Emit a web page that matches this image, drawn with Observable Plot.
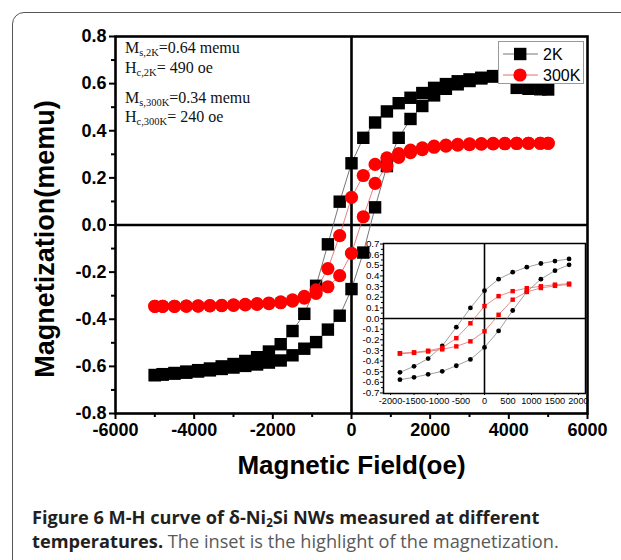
<!DOCTYPE html>
<html><head><meta charset="utf-8">
<script src="https://cdn.jsdelivr.net/npm/d3@7"></script>
<script src="https://cdn.jsdelivr.net/npm/@observablehq/plot@0.6"></script>
<style>
body{margin:0;background:#fff;}
#wrap{position:relative;width:621px;height:560px;overflow:hidden;background:#fff;}
#border{position:absolute;left:12px;top:12px;width:720px;height:720px;border:1.5px solid #555;border-radius:12px;box-sizing:border-box;}
#main,#inset,#legend{position:absolute;}
#main{left:0;top:0;}
#inset{left:357px;top:237px;}
#legend{left:498px;top:41px;}
.ann{position:absolute;left:125px;font-family:"Liberation Serif","Times New Roman",serif;font-size:16px;line-height:16px;color:#111;white-space:nowrap;}
.ann sub{font-size:10.5px;line-height:0;vertical-align:-3px;}
.cap{position:absolute;left:32px;font-family:"Open Sans",sans-serif;font-size:18.2px;line-height:18px;white-space:nowrap;color:#58595b;}
.cap b{color:#231f20;font-weight:700;}
.cap sub{font-size:11.5px;line-height:0;vertical-align:-3px;}
svg text{font-family:"Liberation Sans",Arial,sans-serif;}
</style></head>
<body><div id="wrap">
<div id="border"></div>
<div id="main"></div>
<div id="inset"></div>
<div id="legend"></div>
<div class="ann" style="top:40px">M<sub>s,2K</sub>=0.64 memu</div>
<div class="ann" style="top:60px">H<sub>c,2K</sub>= 490 oe</div>
<div class="ann" style="top:90px">M<sub>s,300K</sub>=0.34 memu</div>
<div class="ann" style="top:109px">H<sub>c,300K</sub>= 240 oe</div>
<div class="cap" style="top:508px"><b>Figure 6 M-H curve of δ-Ni<sub>2</sub>Si NWs measured at different</b></div>
<div class="cap" style="top:532px"><b>temperatures.</b> The inset is the highlight of the magnetization.</div>
</div>
<script>
// Field values (oe), shared by all branches
const H = [-5000,-4800,-4500,-4200,-3900,-3600,-3300,-3000,-2700,-2400,-2100,-1800,-1500,-1200,-900,-600,-300,0,300,600,900,1200,1500,1800,2100,2400,2700,3000,3300,3600,3900,4200,4500,4800,5000];
// 2K, field increasing branch
const m2kAsc = [-0.637,-0.635,-0.631,-0.627,-0.622,-0.617,-0.611,-0.605,-0.598,-0.592,-0.584,-0.575,-0.553,-0.525,-0.497,-0.444,-0.385,-0.272,-0.117,0.075,0.25,0.37,0.45,0.505,0.55,0.578,0.597,0.611,0.622,0.630,0.637,0.640,0.641,0.642,0.642];
// 2K, field decreasing branch
const m2kDesc = [-0.637,-0.633,-0.628,-0.622,-0.616,-0.609,-0.600,-0.590,-0.577,-0.561,-0.537,-0.506,-0.450,-0.377,-0.258,-0.082,0.099,0.262,0.370,0.435,0.482,0.517,0.540,0.560,0.582,0.598,0.610,0.618,0.625,0.632,0.637,0.582,0.578,0.576,0.575];
// 300K, field increasing branch
const m300Asc = [-0.345,-0.345,-0.345,-0.344,-0.344,-0.343,-0.342,-0.341,-0.339,-0.337,-0.334,-0.330,-0.323,-0.310,-0.290,-0.262,-0.215,-0.120,0.035,0.177,0.250,0.287,0.307,0.320,0.330,0.335,0.339,0.341,0.343,0.344,0.345,0.346,0.347,0.347,0.347];
// 300K, field decreasing branch
const m300Desc = [-0.345,-0.345,-0.345,-0.344,-0.343,-0.342,-0.341,-0.339,-0.337,-0.334,-0.331,-0.326,-0.318,-0.303,-0.275,-0.185,-0.045,0.117,0.210,0.257,0.285,0.303,0.318,0.327,0.335,0.339,0.342,0.344,0.345,0.346,0.346,0.347,0.347,0.347,0.347];

const seriesNames = ["2K", "300K"];
const xTitle = "Magnetic Field(oe)";
const yTitle = "Magnetization(memu)";
const xMajor = [-6000,-4000,-2000,0,2000,4000,6000];
const xMinor = [-5000,-3000,-1000,1000,3000,5000];
const yMajor = [-0.8,-0.6,-0.4,-0.2,0,0.2,0.4,0.6,0.8];
const yMinor = [-0.7,-0.5,-0.3,-0.1,0.1,0.3,0.5,0.7];
const insetXTicks = [-2000,-1500,-1000,-500,0,500,1000,1500,2000];
const insetYTicks = [-0.7,-0.6,-0.5,-0.4,-0.3,-0.2,-0.1,0,0.1,0.2,0.3,0.4,0.5,0.6,0.7];
const insetYMinor = [-0.65,-0.55,-0.45,-0.35,-0.25,-0.15,-0.05,0.05,0.15,0.25,0.35,0.45,0.55,0.65];
const insetRange = 1800;

const rows = arr => H.map((h, i) => ({h, m: arr[i]}));
const d2kA = rows(m2kAsc), d2kD = rows(m2kDesc), d3A = rows(m300Asc), d3D = rows(m300Desc);
const inR = d => d.filter(r => Math.abs(r.h) <= insetRange);

const black = "#000", red = "#ff0000";
const fmt1 = d => d.toFixed(1);

const main = Plot.plot({
  width: 621, height: 500,
  marginLeft: 115, marginRight: 34, marginTop: 36, marginBottom: 87,
  x: {domain: [-6000, 6000], label: null},
  y: {domain: [-0.8, 0.8], label: null},
  style: {background: "transparent", overflow: "visible", color: "#000"},
  marks: [
    Plot.ruleX([0], {stroke: black, strokeWidth: 2.6}),
    Plot.ruleY([0], {stroke: black, strokeWidth: 2.6}),
    Plot.line(d2kA, {x: "h", y: "m", stroke: "#666", strokeWidth: 0.9}),
    Plot.line(d2kD, {x: "h", y: "m", stroke: "#666", strokeWidth: 0.9}),
    Plot.dot(d2kA, {x: "h", y: "m", symbol: "square", r: 7, fill: black, stroke: "none"}),
    Plot.dot(d2kD, {x: "h", y: "m", symbol: "square", r: 7, fill: black, stroke: "none"}),
    Plot.line(d3A, {x: "h", y: "m", stroke: "#e06060", strokeWidth: 0.8}),
    Plot.line(d3D, {x: "h", y: "m", stroke: "#e06060", strokeWidth: 0.8}),
    Plot.dot(d3A, {x: "h", y: "m", symbol: "circle", r: 6.6, fill: red, stroke: "none"}),
    Plot.dot(d3D, {x: "h", y: "m", symbol: "circle", r: 6.6, fill: red, stroke: "none"}),
    Plot.frame({stroke: black, strokeWidth: 2.6}),
    Plot.axisX(xMajor, {tickSize: 6, tickPadding: 4, strokeWidth: 2, fontSize: 18, fontWeight: "bold", tickFormat: d => String(d), label: null}),
    Plot.axisX(xMinor, {tickSize: 4, strokeWidth: 2, tickFormat: () => "", label: null}),
    Plot.axisY(yMajor, {tickSize: 6, tickPadding: 3, strokeWidth: 2, fontSize: 18, fontWeight: "bold", tickFormat: fmt1, label: null}),
    Plot.axisY(yMinor, {tickSize: 4, strokeWidth: 2, tickFormat: () => "", label: null}),
    Plot.text([xTitle], {frameAnchor: "bottom", dy: 60, fontSize: 26, fontWeight: "bold"}),
    Plot.text([yTitle], {frameAnchor: "left", textAnchor: "middle", dx: -70, dy: 14, rotate: -90, fontSize: 27, fontWeight: "bold"})
  ]
});
document.getElementById("main").appendChild(main);

const inset = Plot.plot({
  width: 230, height: 172,
  marginLeft: 26, marginRight: 2, marginTop: 6, marginBottom: 16,
  x: {domain: [-2150, 2150], label: null},
  y: {domain: [-0.705, 0.705], label: null},
  style: {background: "transparent", overflow: "visible", color: "#000"},
  marks: [
    Plot.frame({fill: "#fff", stroke: "none"}),
    Plot.ruleX([0], {stroke: black, strokeWidth: 1.6}),
    Plot.ruleY([0], {stroke: black, strokeWidth: 1.6}),
    Plot.line(inR(d2kA), {x: "h", y: "m", stroke: "#888", strokeWidth: 0.8}),
    Plot.line(inR(d2kD), {x: "h", y: "m", stroke: "#888", strokeWidth: 0.8}),
    Plot.dot(inR(d2kA), {x: "h", y: "m", r: 2.4, fill: black, stroke: "none"}),
    Plot.dot(inR(d2kD), {x: "h", y: "m", r: 2.4, fill: black, stroke: "none"}),
    Plot.line(inR(d3A), {x: "h", y: "m", stroke: "#e07070", strokeWidth: 0.8}),
    Plot.line(inR(d3D), {x: "h", y: "m", stroke: "#e07070", strokeWidth: 0.8}),
    Plot.dot(inR(d3A), {x: "h", y: "m", symbol: "square", r: 2.5, fill: red, stroke: "none"}),
    Plot.dot(inR(d3D), {x: "h", y: "m", symbol: "square", r: 2.5, fill: red, stroke: "none"}),
    Plot.frame({stroke: black, strokeWidth: 1.5}),
    Plot.axisY(insetYTicks, {tickSize: 3, tickPadding: 1, fontSize: 9.8, tickFormat: fmt1, label: null}),
    Plot.axisY(insetYMinor, {tickSize: 2, tickFormat: () => "", label: null}),
    Plot.axisX(insetXTicks, {tickSize: 2, tickPadding: 1.5, fontSize: 9.2, tickFormat: d => String(d), label: null})
  ]
});
document.getElementById("inset").appendChild(inset);

// legend box inside the plot area
const leg = d3.select("#legend").append("svg").attr("width", 86).attr("height", 44);
leg.append("rect").attr("x", 0.5).attr("y", 0.5).attr("width", 85).attr("height", 42)
  .attr("fill", "#fff").attr("stroke", "#999").attr("stroke-width", 1);
const legRows = [
  {name: seriesNames[0], line: "#666", y: 13},
  {name: seriesNames[1], line: "#e06060", y: 34}
];
legRows.forEach((r, i) => {
  leg.append("line").attr("x1", 5).attr("x2", 40).attr("y1", r.y).attr("y2", r.y).attr("stroke", r.line).attr("stroke-width", 0.9);
  if (i === 0) leg.append("rect").attr("x", 16).attr("y", r.y - 6.2).attr("width", 12.4).attr("height", 12.4).attr("fill", black);
  else leg.append("circle").attr("cx", 22).attr("cy", r.y).attr("r", 6.6).attr("fill", red);
  leg.append("text").attr("x", 45).attr("y", r.y).attr("dy", "0.36em").attr("font-size", 16).attr("fill", "#000").text(r.name);
});
</script>
</body></html>
